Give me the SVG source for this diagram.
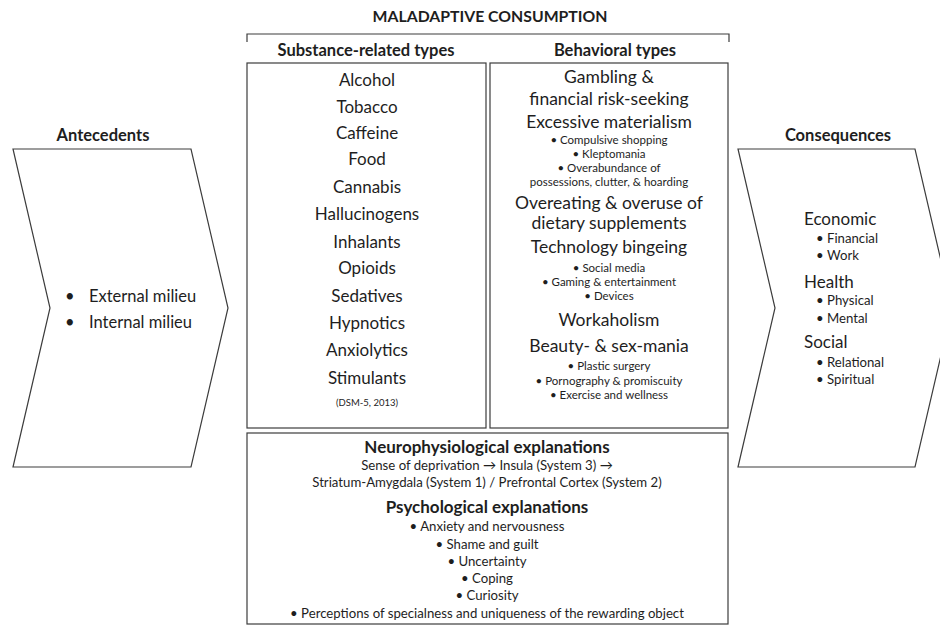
<svg xmlns="http://www.w3.org/2000/svg" width="940" height="626" viewBox="0 0 940 626">
<style>
text{font-family:Lato,"Open Sans","Liberation Sans",sans-serif;fill:#1e1e1e}
.b{font-weight:bold}
.c{text-anchor:middle}
.shape{fill:#fff;stroke:#3c3c3c;stroke-width:1.2}
.l{font-size:17px}
.r{font-size:17.5px}
.s{font-size:11.5px}
.m{font-size:13.2px}
.h{font-size:16.5px;font-weight:bold}
.e{font-size:17px;font-weight:bold}
</style>
<rect width="940" height="626" fill="#fff"/>
<g id="header">
<text x="490" y="22" class="c b" style="font-size:15.8px">MALADAPTIVE CONSUMPTION</text>
<path d="M247,42 V34 H729 V42" fill="none" stroke="#3c3c3c" stroke-width="1.2"/>
<text x="366" y="56" class="c h">Substance-related types</text>
<text x="615" y="56" class="c h">Behavioral types</text>
</g>
<g id="antecedents">
<text x="103" y="141" class="c h">Antecedents</text>
<polygon class="shape" points="13,149 191,149 228,308 191,467 13,467 50,308"/>
<text x="65" y="302" style="font-size:16.5px">•</text>
<text x="89" y="302" style="font-size:16.5px">External milieu</text>
<text x="65" y="328" style="font-size:16.5px">•</text>
<text x="89" y="328" style="font-size:16.5px">Internal milieu</text>
</g>
<g id="consequences">
<text x="838" y="141" class="c h">Consequences</text>
<polygon class="shape" points="738,149 915,149 952,308 915,467 738,467 775,308"/>
<text x="804" y="225" class="l">Economic</text>
<text x="816" y="243" class="m">•</text><text x="827" y="243" class="m">Financial</text>
<text x="816" y="260" class="m">•</text><text x="827" y="260" class="m">Work</text>
<text x="804" y="288" class="l">Health</text>
<text x="816" y="305" class="m">•</text><text x="827" y="305" class="m">Physical</text>
<text x="816" y="323" class="m">•</text><text x="827" y="323" class="m">Mental</text>
<text x="804" y="348" class="l">Social</text>
<text x="816" y="367" class="m">•</text><text x="827" y="367" class="m">Relational</text>
<text x="816" y="384" class="m">•</text><text x="827" y="384" class="m">Spiritual</text>
</g>
<g id="substance">
<rect class="shape" x="247" y="63" width="239" height="365"/>
<g class="c l">
<text x="367" y="86">Alcohol</text>
<text x="367" y="113">Tobacco</text>
<text x="367" y="139">Caffeine</text>
<text x="367" y="165">Food</text>
<text x="367" y="193">Cannabis</text>
<text x="367" y="220">Hallucinogens</text>
<text x="367" y="248">Inhalants</text>
<text x="367" y="274">Opioids</text>
<text x="367" y="302">Sedatives</text>
<text x="367" y="329">Hypnotics</text>
<text x="367" y="356">Anxiolytics</text>
<text x="367" y="384">Stimulants</text>
</g>
<text x="367" y="406" class="c" style="font-size:9.5px">(DSM-5, 2013)</text>
</g>
<g id="behavioral">
<rect class="shape" x="490" y="63" width="238" height="365"/>
<g class="c r">
<text x="609" y="83">Gambling &amp;</text>
<text x="609" y="105">financial risk-seeking</text>
<text x="609" y="128">Excessive materialism</text>
<text x="609" y="209">Overeating &amp; overuse of</text>
<text x="609" y="229">dietary supplements</text>
<text x="609" y="253">Technology bingeing</text>
<text x="609" y="326">Workaholism</text>
<text x="609" y="352">Beauty- &amp; sex-mania</text>
</g>
<g class="c s">
<text x="609" y="144">• Compulsive shopping</text>
<text x="609" y="158">• Kleptomania</text>
<text x="609" y="172">• Overabundance of</text>
<text x="609" y="186">possessions, clutter, &amp; hoarding</text>
<text x="609" y="271.5">• Social media</text>
<text x="609" y="285.5">• Gaming &amp; entertainment</text>
<text x="609" y="300">• Devices</text>
<text x="609" y="370">• Plastic surgery</text>
<text x="609" y="384.5">• Pornography &amp; promiscuity</text>
<text x="609" y="399">• Exercise and wellness</text>
</g>
</g>
<g id="explanations">
<rect class="shape" x="247" y="433" width="481" height="191"/>
<text x="487" y="453" class="c e">Neurophysiological explanations</text>
<text x="487" y="470" class="c m">Sense of deprivation → Insula (System 3) →</text>
<text x="487" y="487" class="c m">Striatum-Amygdala (System 1) / Prefrontal Cortex (System 2)</text>
<text x="487" y="513" class="c e">Psychological explanations</text>
<text x="487" y="531" class="c m">• Anxiety and nervousness</text>
<text x="487" y="549" class="c m">• Shame and guilt</text>
<text x="487" y="566" class="c m">• Uncertainty</text>
<text x="487" y="583" class="c m">• Coping</text>
<text x="487" y="600" class="c m">• Curiosity</text>
<text x="487" y="618" class="c m">•   Perceptions of specialness and uniqueness of the rewarding object</text>
</g>
<g id="connectors"></g>
</svg>
